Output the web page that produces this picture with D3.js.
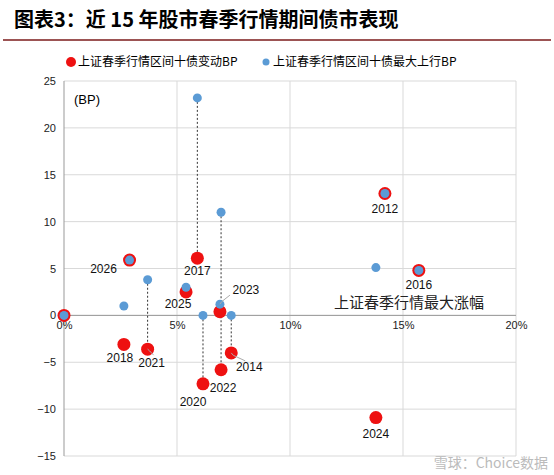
<!DOCTYPE html>
<html><head><meta charset="utf-8">
<script src="https://cdn.jsdelivr.net/npm/d3@7"></script>
<style>body{margin:0;background:#fff;font-family:"Liberation Sans",Arial,"Noto Sans CJK SC",sans-serif}</style>
</head><body>
<script>
// data: [year, stock max rise %, bond change BP, bond max up BP]
const years   = ['0','2026','2012','2016','2017','2025','2023','2020','2014','2018','2021','2024','2022'];
const rise    = [0, 2.9, 14.2, 15.7, 5.9, 5.4, 6.9, 6.15, 7.4, 2.65, 3.7, 13.8, 6.95];
const change  = [0, 5.9, 13.0, 4.8, 6.1, 2.5, 0.4, -7.3, -4.0, -3.1, -3.6, -10.9, -5.8];
const maxUp   = [0, 5.9, 13.0, 4.8, 23.2, 3.0, 1.2, 0, 0, 1.0, 3.8, 5.1, 11.0];
const dashed  = ['2017','2021','2020','2022','2014'];
const labelAt = {'2026':[-26,-9],'2012':[0,-15],'2016':[0,-15],'2017':[0,-13],'2025':[-8,-12],
  '2023':[26,14],'2020':[-10,-18],'2014':[18,-14],'2018':[-4,-14],'2021':[4,-14],'2024':[0,-16],'2022':[2,-18]};
const yTicks = [25,20,15,10,5,0,-5,-10,-15];
const xTicks = [0,5,10,15,20];

const W = 554, H = 475;
const svg = d3.select('body').append('svg').attr('width', W).attr('height', H);
svg.append('text').attr('x', 14).attr('y', 27).attr('font-size', 20).attr('font-weight', 'bold')
  .attr('font-family', '"Noto Sans CJK SC",sans-serif').text('图表3：近 15 年股市春季行情期间债市表现');
svg.append('line').attr('x1', 3).attr('x2', 551).attr('y1', 40).attr('y2', 40).attr('stroke', '#7b1a1a').attr('stroke-width', 1.5);

const x = d3.scaleLinear().domain([0, 20]).range([64, 516]);
const y = d3.scaleLinear().domain([-15, 25]).range([456, 81]);

const g = svg.append('g');
g.selectAll('.hg').data(yTicks).join('line').attr('x1', 64).attr('x2', 516)
  .attr('y1', d => y(d)).attr('y2', d => y(d)).attr('stroke', '#d9d9d9');
g.selectAll('.vg').data(xTicks.slice(1)).join('line').attr('y1', 81).attr('y2', 456)
  .attr('x1', d => x(d)).attr('x2', d => x(d)).attr('stroke', '#d9d9d9');
g.append('line').attr('x1', 64).attr('x2', 64).attr('y1', 81).attr('y2', 456).attr('stroke', '#999');
g.append('line').attr('x1', 64).attr('x2', 516).attr('y1', y(0)).attr('y2', y(0)).attr('stroke', '#999');

const yAxis = svg.append('g').attr('transform', 'translate(64,0)').call(d3.axisLeft(y).tickValues(yTicks).tickSize(0).tickPadding(8));
const xAxis = svg.append('g').attr('transform', `translate(0,${y(0)})`).call(d3.axisBottom(x).tickValues(xTicks).tickFormat(d => d + '%').tickSize(0).tickPadding(6));
[yAxis, xAxis].forEach(a => { a.select('.domain').remove(); a.selectAll('text').attr('font-size', 11).attr('fill', '#222'); });

svg.append('text').attr('x', 74).attr('y', 104).attr('font-size', 13).text('(BP)');
svg.append('text').attr('x', 334).attr('y', 308).attr('font-size', 15).attr('fill', '#222')
  .attr('font-family', '"Noto Sans CJK SC",sans-serif').text('上证春季行情最大涨幅');

// dashed connectors
const idx = years.map((_, i) => i);
svg.selectAll('.dl').data(idx.filter(i => dashed.includes(years[i]))).join('line')
  .attr('x1', i => x(rise[i])).attr('x2', i => x(rise[i]))
  .attr('y1', i => y(maxUp[i])).attr('y2', i => y(change[i]))
  .attr('stroke', '#333').attr('stroke-dasharray', '2,2');

svg.selectAll('.rd').data(idx).join('circle').attr('cx', i => x(rise[i])).attr('cy', i => y(change[i]))
  .attr('r', 6.5).attr('fill', '#ee1111');
svg.selectAll('.bd').data(idx).join('circle').attr('cx', i => x(rise[i])).attr('cy', i => y(maxUp[i]))
  .attr('r', 4.5).attr('fill', '#5b9bd5');

// labels
svg.selectAll('.lb').data(idx.filter(i => labelAt[years[i]])).join('text')
  .attr('x', i => x(rise[i]) + labelAt[years[i]][0])
  .attr('y', i => y(years[i] === '2023' ? maxUp[i] : change[i]) - labelAt[years[i]][1] + 4)
  .attr('text-anchor', 'middle').attr('font-size', 12).attr('fill', '#111').text(i => years[i]);
// leader lines
const lead = [['2023', 1, 10, -9], ['2021', 0, 6, 6], ['2014', 0, 14, 8]];
lead.forEach(([yr, top, dx, dy]) => {
  const i = years.indexOf(yr);
  const cx = x(rise[i]), cy = y(top ? maxUp[i] : change[i]);
  svg.append('path').attr('d', `M${cx},${cy}L${cx + 2},${cy + dy * 0.3}L${cx + dx},${cy + dy}`)
    .attr('fill', 'none').attr('stroke', '#aaa');
});

// legend
const lg = svg.append('g').attr('font-family', '"Noto Sans CJK SC",sans-serif').attr('font-size', 12);
lg.append('circle').attr('cx', 71).attr('cy', 62).attr('r', 5).attr('fill', '#ee1111');
lg.append('text').attr('x', 78).attr('y', 66).text('上证春季行情区间十债变动BP');
lg.append('circle').attr('cx', 266).attr('cy', 62).attr('r', 3.5).attr('fill', '#5b9bd5');
lg.append('text').attr('x', 273).attr('y', 66).text('上证春季行情区间十债最大上行BP');

svg.append('text').attr('x', 548).attr('y', 468).attr('text-anchor', 'end').attr('font-size', 14)
  .attr('fill', '#bbb').attr('font-family', '"Noto Sans CJK SC",sans-serif').text('雪球：Choice数据');
</script>
</body></html>
